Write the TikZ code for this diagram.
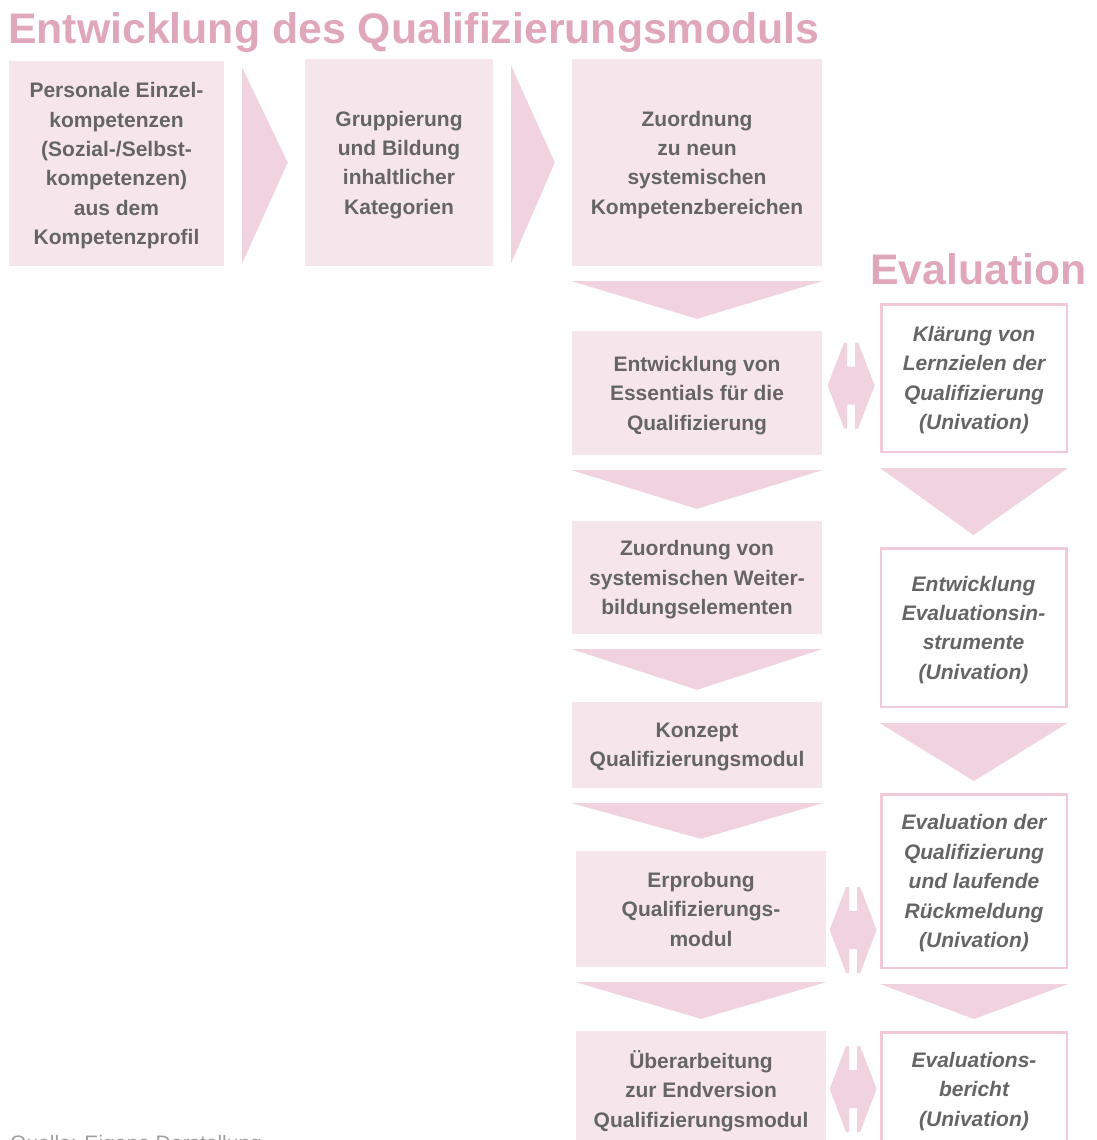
\documentclass[tikz,border=0pt]{standalone}
\usepackage{fontspec}
\setmainfont{Liberation Sans}
\usetikzlibrary{calc}
\definecolor{boxpink}{HTML}{F6E6EC}
\definecolor{arrpink}{HTML}{F0D3DE}
\definecolor{linepink}{HTML}{F0CAD6}
\definecolor{titlepink}{HTML}{E0A7BB}
\definecolor{txtgray}{HTML}{656565}
\newcommand{\hchev}[2]{\fill[arr] ($(#1.north east)+(18,7)$) -- ($(#2.west)+(-17,0)$) -- ($(#1.south east)+(18,-3)$) -- cycle;}
\newcommand{\vchev}[2]{\fill[arr] ($(#1.south west)+(0,15)$) -- ($(#1.south east)+(0,15)$) -- ($(#2.north)+(0,-12)$) -- cycle;}
\newcommand{\dblarr}[1]{\fill[arr,shift={#1}] (-23.5,0) -- (-7,-43) -- (-4,-43) -- (-4,-19) -- (4,-19) -- (4,-43) -- (7,-43) -- (23.5,0) -- (7,43) -- (4,43) -- (4,19) -- (-4,19) -- (-4,43) -- (-7,43) -- cycle;}

\begin{document}
\begin{tikzpicture}[x=1pt,y=-1pt,
    stepbox/.style={fill=boxpink,text=txtgray,font=\bfseries\fontsize{21}{29.4}\selectfont,align=center,inner sep=0pt,text depth=0pt,minimum width=250},
    evalbox/.style={draw=linepink,line width=2.5pt,fill=white,text=txtgray,font=\bfseries\itshape\fontsize{21}{29.4}\selectfont,align=center,inner sep=0pt,text depth=0pt,minimum width=185.5},
    arr/.style={fill=arrpink},
    heading/.style={text=titlepink,font=\bfseries\fontsize{42.8}{50}\selectfont,anchor=base west,inner sep=0pt}]
    \useasboundingbox (0,0) rectangle (1096,1140);
    \clip (0,0) rectangle (1096,1140);
    \node[heading] (title) at (8,44) {Entwicklung des Qualifizierungsmoduls};
    \node[heading] (evaltitle) at (870,284) {Evaluation};
    \node[stepbox,minimum width=215,minimum height=205] (b1) at (116.5,163.5) {Personale Einzel-\\kompetenzen\\(Sozial-/Selbst-\\kompetenzen)\\aus dem\\Kompetenzprofil};
    \node[stepbox,minimum width=188,minimum height=207] (b2) at (399,162.5) {Gruppierung\\und Bildung\\inhaltlicher\\Kategorien};
    \node[stepbox,minimum height=207] (b3) at (697,162.5) {Zuordnung\\zu neun\\systemischen\\Kompetenzbereichen};
    \node[stepbox,minimum height=124] (b4) at (697,393) {Entwicklung von\\Essentials für die\\Qualifizierung};
    \node[stepbox,minimum height=113] (b5) at (697,577.5) {Zuordnung von\\systemischen Weiter-\\bildungselementen};
    \node[stepbox,minimum height=86] (b6) at (697,745) {Konzept\\Qualifizierungsmodul};
    \node[stepbox,minimum height=116] (b7) at (701,909) {Erprobung\\Qualifizierungs-\\modul};
    \node[stepbox,minimum height=116] (b8) at (701,1089) {Überarbeitung\\zur Endversion\\Qualifizierungsmodul};
    \node[evalbox,minimum height=147.5] (e1) at (974,378) {Klärung von\\Lernzielen der\\Qualifizierung\\(Univation)};
    \node[evalbox,minimum height=158.5] (e2) at (973.5,627.5) {Entwicklung\\Evaluationsin-\\strumente\\(Univation)};
    \node[evalbox,minimum height=173.5] (e3) at (974,881) {Evaluation der\\Qualifizierung\\und laufende\\Rückmeldung\\(Univation)};
    \node[evalbox,minimum height=113.5] (e4) at (974,1089) {Evaluations-\\bericht\\(Univation)};
    \node[anchor=base west,inner sep=0pt,text=gray!75,font=\fontsize{21}{25}\selectfont] (src) at (10,1150) {Quelle: Eigene Darstellung};
    \hchev{b1}{b2}
    \hchev{b2}{b3}
    \foreach \a/\b in {b3/b4,b4/b5,b5/b6,b6/b7,b7/b8,e1/e2,e2/e3,e3/e4} {\vchev{\a}{\b}}
    \dblarr{($(b4.east)!0.5!(e1.west)$)}
    \dblarr{($(b7.east)!0.5!(e3.west)+(0,35)$)}
    \dblarr{($(b8.east)!0.5!(e4.west)$)}
\end{tikzpicture}
\end{document}
